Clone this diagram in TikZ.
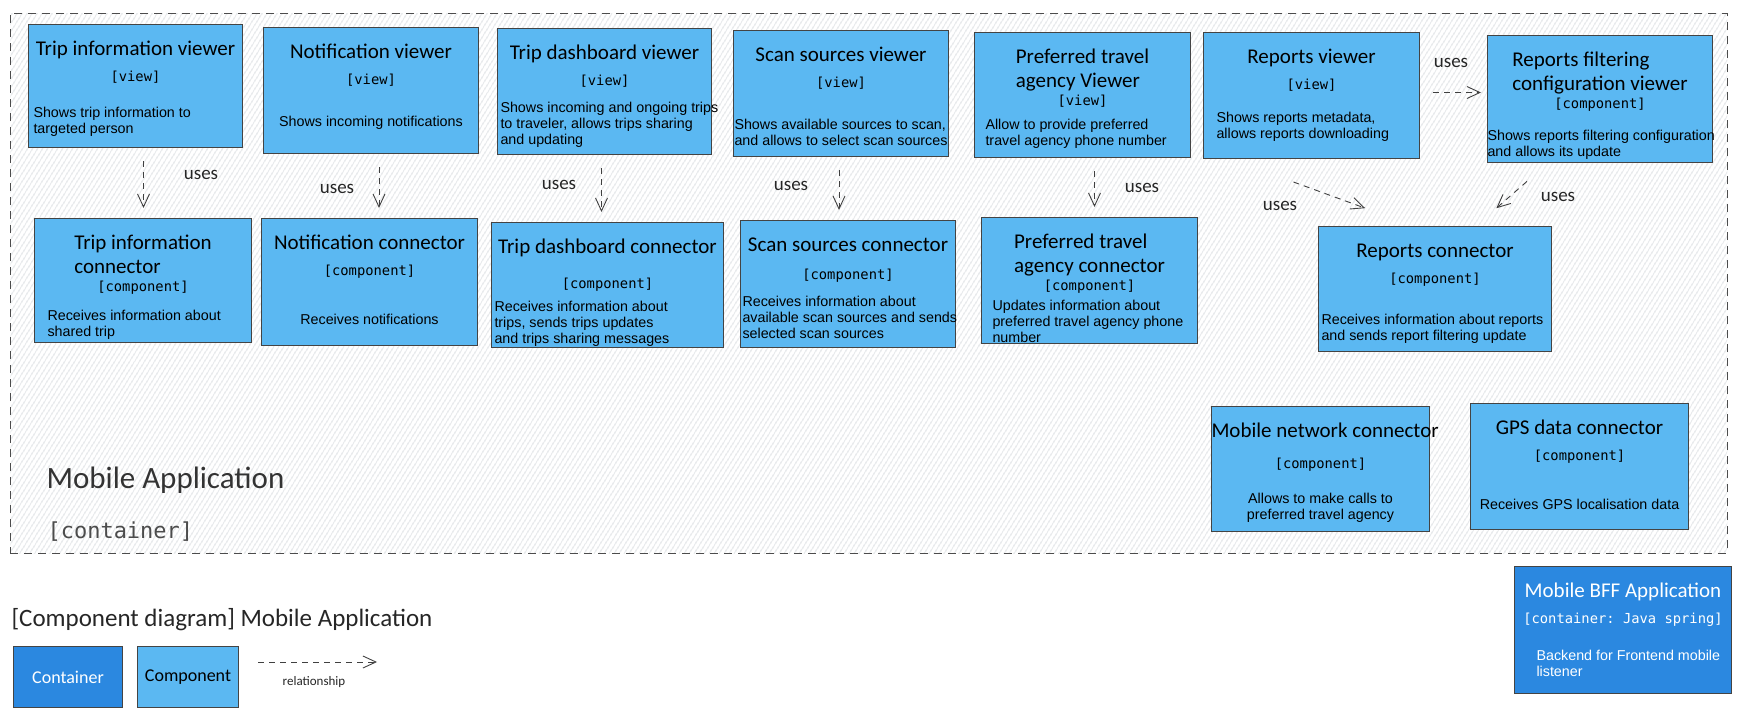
\documentclass[tikz,border=0pt]{standalone}
\usepackage{fontspec}
\setmainfont{Liberation Sans}
\setmonofont{DejaVu Sans Mono}
\newfontfamily\handfont{Carlito}
\usetikzlibrary{arrows.meta, positioning, patterns.meta}
\definecolor{c4Comp}{RGB}{91,184,242}
\definecolor{c4Cont}{RGB}{43,136,224}
\definecolor{c4Edge}{RGB}{68,68,68}
\definecolor{c4Hatch}{RGB}{196,201,206}

% box body: width, height, contents (top aligned)
\newcommand{\cbox}[3]{\parbox[c][#2pt][t]{#1pt}{\centering\vspace*{14pt}#3}}
\newcommand{\ctitle}[1]{{\handfont\fontsize{21}{24}\selectfont\begin{tabular}[t]{@{}l@{}}#1\end{tabular}\par}}
\newcommand{\ctype}[2][26pt]{{\ttfamily\fontsize{13.8}{#1}\selectfont #2\par}}
\newcommand{\cdesc}[3][20pt]{\vspace{#1}{\raggedright\noindent\hspace*{#2pt}\begin{tabular}[t]{@{}l@{}}#3\end{tabular}\par}}
\newcommand{\cdescc}[2][20pt]{\vspace{#1}{\centering\begin{tabular}[t]{@{}c@{}}#2\end{tabular}\par}}

\begin{document}
\begin{tikzpicture}[
  x=1pt, y=-1pt,
  font=\fontsize{14.3}{16}\selectfont,
  comp/.style={rectangle, draw=c4Edge, fill=c4Comp, line width=1pt, inner sep=0pt, anchor=north west},
  cont/.style={comp, fill=c4Cont, text=white},
  bound/.style={rectangle, draw=black!70, line width=1.1pt, dash pattern=on 8pt off 6pt,
    pattern={Lines[angle=58, distance=4pt, line width=0.6pt]}, pattern color=c4Hatch,
    inner sep=0pt, anchor=north west},
  usesarrow/.style={draw=black!75, line width=0.9pt, dash pattern=on 6pt off 5pt,
    -{Straight Barb[length=13pt, width=12pt]}},
  lbl/.style={font=\handfont\fontsize{19}{20}\selectfont, text=black!85},
]
\useasboundingbox (0,0) rectangle (1744,715);

% --- Container boundary ------------------------------------------------------
\node[bound, minimum width=1717pt, minimum height=540pt] (app) at (10,13) {};
\node[anchor=west, font=\handfont\fontsize{31}{33}\selectfont, text=black!80] (appName) at (43,480) {Mobile Application};
\node[anchor=west, font=\ttfamily\fontsize{22}{24}\selectfont, text=black!70] (appType) at (44,532) {[container]};

% --- Views (top row) ---------------------------------------------------------
\node[comp] (tiv) at (28,24)   {\cbox{214}{123}{\ctitle{Trip information viewer}\ctype{[view]}\cdesc[20pt]{5}{Shows trip information to\\targeted person}}};
\node[comp] (nv)  at (263,27)  {\cbox{215}{126}{\ctitle{Notification viewer}\ctype{[view]}\cdescc[26pt]{Shows incoming notifications}}};
\node[comp] (tdv) at (497,28)  {\cbox{214}{126}{\ctitle{Trip dashboard viewer}\ctype{[view]}\cdesc[11pt]{3}{Shows incoming and ongoing trips\\to traveler, allows trips sharing\\and updating}}};
\node[comp] (ssv) at (733,30)  {\cbox{215}{126}{\ctitle{Scan sources viewer}\ctype{[view]}\cdesc[26pt]{1}{Shows available sources to scan,\\and allows to select scan sources}}};
\node[comp] (ptv) at (974,32)  {\cbox{216}{125}{\ctitle{Preferred travel\\agency Viewer}\ctype[20pt]{[view]}\cdesc[8pt]{11}{Allow to provide preferred\\travel agency phone number}}};
\node[comp] (rv)  at (1203,32) {\cbox{216}{126}{\ctitle{Reports viewer}\ctype{[view]}\cdesc[17pt]{13}{Shows reports metadata,\\allows reports downloading}}};
\node[comp] (rfv) at (1487,35) {\cbox{225}{127}{\ctitle{Reports filtering\\configuration viewer}\ctype{[component]}\cdesc[16pt]{0}{Shows reports filtering configuration\\and allows its update}}};

% --- Connectors (second row) -------------------------------------------------
\node[comp] (tic) at (34,218)  {\cbox{217}{124}{\ctitle{Trip information\\connector}\ctype[17pt]{[component]}\cdesc[13pt]{13}{Receives information about\\shared trip}}};
\node[comp] (nc)  at (261,218) {\cbox{216}{127}{\ctitle{Notification connector}\ctype{[component]}\cdescc[33pt]{Receives notifications}}};
\node[comp] (tdc) at (491,222) {\cbox{232}{125}{\ctitle{Trip dashboard connector}\ctype[35pt]{[component]}\cdesc[7pt]{3}{Receives information about\\trips, sends trips updates\\and trips sharing messages}}};
\node[comp] (ssc) at (740,220) {\cbox{215}{127}{\ctitle{Scan sources connector}\ctype[28pt]{[component]}\cdesc[11pt]{2}{Receives information about\\available scan sources and sends\\selected scan sources}}};
\node[comp] (ptc) at (981,217) {\cbox{216}{126}{\ctitle{Preferred travel\\agency connector}\ctype[22pt]{[component]}\cdesc[4pt]{11}{Updates information about\\preferred travel agency phone\\number}}};
\node[comp] (rc)  at (1318,226) {\cbox{233}{125}{\ctitle{Reports connector}\ctype{[component]}\cdesc[25pt]{3}{Receives information about reports\\and sends report filtering update}}};

% --- Device connectors and external container --------------------------------
\node[comp] (mnc) at (1211,406) {\cbox{218}{125}{\ctitle{Mobile network connector}\ctype[31pt]{[component]}\cdescc[19pt]{Allows to make calls to\\preferred travel agency}}};
\node[comp] (gps) at (1470,403) {\cbox{218}{126}{\ctitle{GPS data connector}\ctype{[component]}\cdescc[33pt]{Receives GPS localisation data}}};
\node[cont] (bff) at (1514,566) {\cbox{217}{127}{\ctitle{Mobile BFF Application}\ctype{[container: Java spring]}\cdesc[21pt]{22}{Backend for Frontend mobile\\listener}}};

% --- Relationships -----------------------------------------------------------
\foreach \a/\b/\s in {tiv/tic/8, nv/nc/8, tdv/tdc/-3, ssv/ssc/-2, ptv/ptc/12}
  \draw[usesarrow, shorten <=13pt, shorten >=10pt] ([xshift=\s pt]\a.south) -- ([xshift=\s pt]\a.south |- \b.north);
\draw[usesarrow, shorten <=13pt, shorten >=6pt] ([yshift=3pt]rv.east) -- ([yshift=3pt]rv.east -| rfv.west);
\draw[usesarrow, shorten <=67pt, shorten >=52pt] ([xshift=-81pt]rv.south) -- ([xshift=-21pt]rc.north);
\draw[usesarrow, shorten <=28pt, shorten >=27pt] ([xshift=-52pt]rfv.south) -- ([xshift=41pt]rc.north);

\foreach \n/\x/\y in {u1/201/175, u2/337/189, u3/559/185, u4/791/186, u5/1142/188, u6/1451/63, u7/1280/206, u8/1558/197}
  \node[lbl] (\n) at (\x,\y) {uses};

% --- Legend ------------------------------------------------------------------
\node[anchor=west, font=\handfont\fontsize{25}{27}\selectfont, text=black!85] (legTitle) at (8,620) {[Component diagram] Mobile Application};
\node[cont, minimum width=109pt, minimum height=61pt, font=\handfont\fontsize{18}{20}\selectfont] (legCont) at (13,646) {Container};
\node[comp, minimum width=101pt, minimum height=61pt, font=\handfont\fontsize{18}{20}\selectfont, right=14pt of legCont] (legComp) {Component};
\coordinate (relA) at (258,662);
\coordinate (relB) at (377,662);
\draw[usesarrow] (relA) -- (relB);
\node[font=\handfont\fontsize{13}{14}\selectfont, text=black!85] (relLbl) at (314,682) {relationship};

\end{tikzpicture}
\end{document}
